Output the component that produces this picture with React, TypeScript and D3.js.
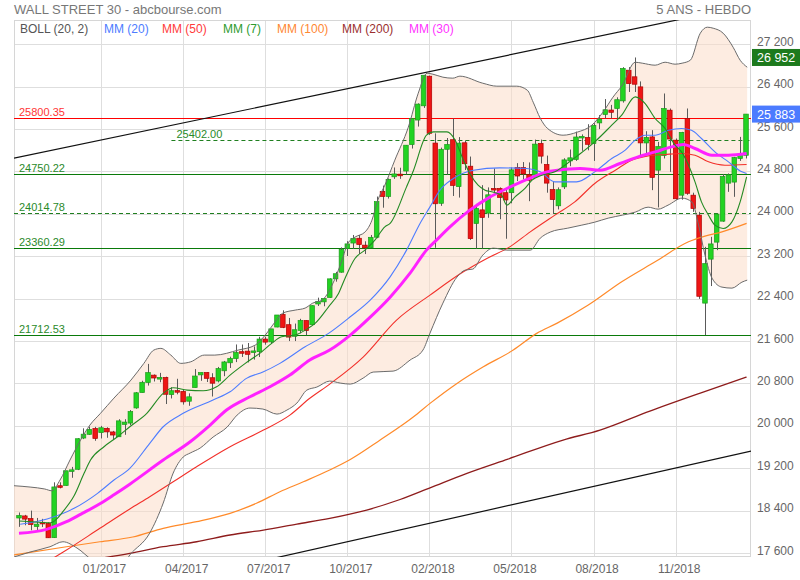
import { useEffect, useRef } from 'react';
import * as d3 from 'd3';

// weekly candles, week 0 = 26/09/2016 ... week 124 = 11/02/2019
const OPEN = [
  18261, 18300, 18250, 18100, 18180, 18160, 17890, 18870, 18875, 19150,
  19180, 19770, 19840, 19950, 19872, 19953, 19885, 19794, 20028, 20052,
  20338, 20628, 20818, 20957, 20882, 20913, 20590, 20665, 20650, 20465,
  20723, 20962, 21007, 20908, 20847, 21039, 21190, 21270, 21400, 21410,
  21392, 21400, 21638, 21584, 21865, 22103, 21909, 21690, 21800, 21988,
  21909, 22300, 22340, 22423, 22774, 22900, 23345, 23450, 23540, 23410,
  23360, 23560, 24424, 24330, 24700, 24750, 24809, 25308, 25771, 26040,
  26598, 25337, 24200, 25219, 25400, 24515, 25342, 24900, 23819, 24076,
  24014, 24480, 24480, 24400, 24400, 24876, 24876, 24740, 24731, 25329,
  24932, 24460, 24153, 24510, 25000, 25026, 25440, 25441, 25329, 25717,
  25876, 25960, 25989, 26133, 26712, 26587, 26397, 25339, 25453, 24825,
  25100, 25957, 25391, 24353, 25800, 24353, 23976, 22316, 23146, 23467,
  23863, 24580, 24600, 25046, 25106,
];
const HIGH = [
  18365, 18320, 18400, 18262, 18245, 18180, 18934, 18935, 19152, 19225,
  19768, 19953, 19987, 19981, 19999, 19973, 19905, 20125, 20125, 20298,
  20639, 20851, 21169, 20970, 21000, 20928, 20729, 20888, 20691, 20613,
  21071, 21007, 21013, 20993, 21112, 21225, 21305, 21536, 21535, 21564,
  21499, 21681, 21681, 21830, 22092, 22180, 22036, 21930, 22020, 21988,
  22273, 22419, 22417, 22784, 22906, 23368, 23485, 23602, 23602, 23483,
  23602, 24327, 24534, 24669, 24876, 24871, 25299, 25803, 26086, 26617,
  26609, 25520, 25250, 25432, 25800.35, 25449, 25380, 25082, 24189, 24542,
  24500, 24858, 24500, 24492, 24876, 24958, 24978, 24971, 25402, 25402,
  25100, 24600, 24500, 25050, 25215, 25552, 25500, 25692, 25712, 25864,
  26167, 26057, 26200, 26769, 26770, 26951.81, 26500, 25561, 25580, 25359,
  26272, 25989, 25423, 25548, 25989, 24400, 24038, 23378, 23567, 24008,
  24750, 24763, 25076, 25453, 25883.25,
];
const LOW = [
  18094, 18124, 18029, 18024, 18090, 17884, 17883, 18820, 18870, 19020,
  19165, 19750, 19830, 19718, 19762, 19775, 19732, 19794, 19831, 20013,
  20322, 20628, 20760, 20837, 20823, 20412, 20517, 20595, 20401, 20379,
  20723, 20850, 20827, 20554, 20820, 20937, 21092, 21203, 21300, 21197,
  21250, 21300, 21531, 21545, 21860, 21844, 21600, 21600, 21745, 21709,
  21909, 22262, 22257, 22416, 22721, 22890, 23205, 23340, 23243, 23242,
  23360, 23541, 24117, 24289, 24660, 24661, 24741, 25233, 25648, 26000,
  25490, 23360.29, 24151, 24738, 24338, 24308, 24828, 23509, 23344, 23344,
  23926, 24400, 23900, 23531, 24200, 24620, 24650, 24240, 24700, 24950,
  24400, 24000, 24084, 24470, 24900, 25000, 25190, 25200, 25000, 25600,
  25800, 25800, 25800, 26100, 26300, 26300, 25090, 25108, 24448, 24122,
  25046, 24793, 24268, 24268, 24360, 24038, 22396, 21712.53, 22638, 23316,
  23850, 24416, 24322, 25000, 25046,
];
const CLOSE = [
  18308, 18240, 18138, 18145, 18161, 17888, 18847, 18868, 19152, 19170,
  19757, 19843, 19934, 19763, 19964, 19886, 19827, 20094, 20071, 20269,
  20624, 20822, 21005, 20903, 20914, 20596, 20663, 20656, 20453, 20548,
  20940, 21007, 20897, 20805, 21080, 21206, 21272, 21384, 21395, 21350,
  21414, 21638, 21580, 21830, 22092, 21858, 21675, 21814, 21988, 21798,
  22268, 22350, 22405, 22774, 22871, 23329, 23434, 23539, 23422, 23358,
  23558, 24231, 24329, 24652, 24754, 24719, 25296, 25803, 26072, 26616,
  25521, 24191, 25219, 25310, 24538, 25336, 24947, 23533, 24103, 23933,
  24360, 24463, 24311, 24263, 24831, 24715, 24753, 24635, 25317, 25090,
  24581, 24271, 24456, 25019, 25058, 25451, 25463, 25313, 25669, 25790,
  25965, 25917, 26155, 26744, 26458, 26447, 25340, 25444, 24688, 25271,
  25989, 25413, 24286, 25538, 24389, 24101, 22445, 23062, 23433, 23996,
  24706, 24737, 25064, 25106, 25883.25,
];

type Pt = [number, number]; // [week, value]

// indicator lines
const BOLL_UPPER: Pt[] = [
  [-0.85, 18870], [1.9, 18845], [4.4, 18808], [5.6, 18775], [7.0, 18977], [8.7, 19355],
  [10.5, 19732], [12.1, 20015], [13.9, 20236], [16.2, 20524], [19.1, 20864], [21.3, 21179],
  [23.0, 21430], [24.2, 21462], [25.9, 21335], [27.6, 21179], [29.3, 21209], [31.6, 21335],
  [33.4, 21335], [37.4, 21430], [40.3, 21524], [42.0, 21713], [43.7, 21963], [45.0, 22128],
  [47.1, 22184], [48.8, 22222], [50.1, 22316], [51.7, 22373], [53.4, 22656], [55.1, 23127],
  [56.1, 23448], [57.3, 23561], [59.0, 23656], [60.2, 23882], [61.2, 24259], [62.4, 24542],
  [64.1, 25014], [66.4, 25636], [68.1, 26278], [69.6, 26655], [70.6, 26636], [72.3, 26580],
  [74.0, 26561], [75.2, 26599], [79.1, 26466], [81.5, 26410], [84.9, 26410], [86.7, 26334],
  [87.7, 26108], [88.9, 25806], [90.1, 25617], [92.8, 25485], [95.2, 25542], [97.7, 25674],
  [99.6, 25919], [101.3, 26202], [102.9, 26429], [105.1, 26862], [106.3, 26844], [108.5, 26806],
  [110.2, 26862], [111.9, 26825], [113.1, 26844], [114.5, 26900], [116.2, 27410], [117.4, 27523],
  [118.4, 27504], [120.1, 27410], [121.8, 27145], [123.0, 26900], [124.2, 26768],
];
const BOLL_LOWER: Pt[] = [
  [-0.85, 17525], [1.9, 17619], [5.3, 17719], [7.5, 17813], [9.9, 17694], [12.6, 17468],
  [15.5, 17393], [18.1, 17449], [18.9, 17563], [22.3, 17977], [24.6, 18543], [26.3, 19109],
  [28.0, 19411], [29.2, 19487], [30.9, 19581], [33.1, 19788], [35.5, 19977], [37.2, 20203],
  [39.4, 20336], [41.6, 20317], [44.0, 20222], [45.7, 20298], [47.4, 20430], [49.1, 20675],
  [50.8, 20732], [53.0, 20845], [54.8, 20807], [56.5, 20788], [58.7, 20901], [60.4, 21015],
  [63.8, 21033], [66.7, 21241], [68.9, 21430], [70.1, 21750], [72.3, 22316], [74.7, 22807],
  [76.1, 22939], [77.4, 22958], [79.1, 23222], [80.9, 23354], [83.2, 23316], [87.2, 23316],
  [88.9, 23542], [90.6, 23656], [93.6, 23731], [96.0, 23788], [98.2, 23844], [100.5, 23920],
  [102.9, 23976], [105.1, 24033], [107.3, 24127], [109.0, 24089], [110.7, 24165], [113.1, 24297],
  [114.8, 24222], [115.8, 23844], [117.0, 23222], [118.2, 22788], [119.9, 22618], [121.6, 22599],
  [123.3, 22712], [124.2, 22750],
];
const MM7: Pt[] = [
  [0, 18204], [2.7, 18185], [5.4, 18172], [7.7, 18411], [9.4, 18680], [11.1, 19104], [12.2, 19355],
  [14.5, 19606], [16.8, 19794], [18.9, 19983], [21.8, 20236], [24.6, 20613], [26.3, 20718],
  [28.7, 20675], [31.4, 20662], [33.7, 20737], [36.0, 20958], [38.6, 21179], [41.4, 21397],
  [43.1, 21556], [44.8, 21680], [47.1, 21713], [49.3, 21839], [50.5, 21933], [52.8, 22246],
  [54.5, 22499], [55.6, 22782], [57.3, 23159], [59.0, 23316], [60.7, 23505], [62.4, 23756],
  [63.3, 23820], [66.1, 24510], [67.3, 24825], [69.5, 25485], [70.7, 25548], [73.0, 25548],
  [74.4, 25391], [75.8, 25014], [76.9, 24763], [78.3, 24542], [79.5, 24448], [80.6, 24416],
  [82.3, 24354], [83.2, 24165], [84.6, 24322], [86.3, 24480], [87.5, 24637], [89.2, 24731],
  [91.4, 24793], [93.1, 24919], [95.4, 25108], [98.2, 25359], [101.1, 25674], [102.8, 25863],
  [105.1, 26208], [106.8, 26083], [108.5, 25800], [110.2, 25612], [111.9, 25297], [113.0, 25170],
  [114.2, 24919], [115.3, 24604], [116.4, 24227], [117.6, 23976], [118.7, 23788], [120.1, 23725],
  [121.6, 23850], [123.0, 24227], [124.1, 24699],
];
const MM20: Pt[] = [
  [0.2, 18142], [4.8, 18242], [9.4, 18443], [13.4, 18726], [16.2, 18977], [18.9, 19198],
  [22.3, 19670], [24.6, 19983], [28.0, 20236], [33.1, 20486], [36.0, 20643], [38.8, 20896],
  [41.7, 21020], [44.5, 21179], [48.8, 21492], [52.8, 21745], [56.5, 22058], [59.9, 22373],
  [63.3, 22812], [66.1, 23316], [68.4, 23820], [70.1, 24133], [71.8, 24448], [74.1, 24669],
  [77.5, 24825], [82.0, 24869], [86.6, 24857], [88.9, 24793], [91.4, 24604], [95.1, 24604],
  [98.2, 24793], [101.1, 25046], [103.4, 25202], [105.1, 25391], [106.8, 25485], [108.5, 25485],
  [110.8, 25580], [113.0, 25612], [114.7, 25580], [116.4, 25423], [118.7, 25170], [121.0, 24982],
  [123.3, 24793], [124.1, 24763],
];
const MM30: Pt[] = [
  [0, 17972], [4.7, 18047], [8.1, 18191], [10.5, 18330], [13.8, 18530], [16.2, 18700],
  [18.9, 18900], [24.6, 19355], [29.2, 19700], [32.6, 20015], [35.4, 20298], [39.4, 20549],
  [42.8, 20737], [46.2, 20958], [49.6, 21241], [53.0, 21430], [56.5, 21713], [59.9, 22052],
  [63.3, 22429], [66.7, 22882], [69.5, 23316], [71.2, 23505], [73.5, 23756], [76.9, 24071],
  [80.3, 24316], [83.7, 24504], [87.2, 24674], [90.6, 24806], [95.7, 24857], [99.1, 24825],
  [102.5, 24951], [105.6, 25076], [108.5, 25170], [111.3, 25265], [113.3, 25310], [115.3, 25234],
  [118.2, 25108], [121.0, 25108], [124.1, 25140],
];
const MM50: Pt[] = [
  [5.3, 17468], [8.1, 17657], [13.8, 18066], [18.9, 18430], [22.3, 18662], [26.3, 18945],
  [30.3, 19228], [36.0, 19606], [41.7, 19920], [46.2, 20203], [49.6, 20520], [53.0, 20788],
  [58.7, 21298], [64.4, 21996], [70.1, 22467], [75.8, 22907], [79.8, 23159], [83.7, 23378],
  [87.2, 23661], [91.4, 23976], [94.8, 24227], [98.2, 24574], [101.7, 24825], [104.5, 25014],
  [107.3, 25095], [110.2, 25121], [113.0, 25140], [115.3, 25108], [117.6, 24982], [120.4, 24919],
  [124.1, 24933],
];
const MM100: Pt[] = [
  [-0.85, 17563], [8.1, 17719], [13.8, 17813], [19.4, 17902], [24.6, 18066], [30.3, 18191],
  [36.0, 18349], [40.5, 18538], [44.5, 18757], [48.5, 18945], [53.0, 19166], [56.5, 19364],
  [61.6, 19732], [67.3, 20171], [70.1, 20424], [74.7, 20801], [79.2, 21115], [84.3, 21430],
  [88.3, 21745], [91.8, 21939], [97.1, 22279], [102.8, 22718], [108.5, 23095], [114.2, 23473],
  [117.0, 23580], [119.9, 23661], [124.1, 23820],
];
const MM200: Pt[] = [
  [12.1, 17468], [18.9, 17595], [24.6, 17719], [30.3, 17813], [36.0, 17940], [41.7, 18034],
  [47.4, 18147], [53.0, 18255], [59.3, 18411], [65.0, 18610], [70.1, 18830], [76.4, 19104],
  [83.4, 19373], [92.8, 19732], [99.1, 19920], [107.6, 20279], [116.2, 20618], [124.1, 20920],
];

const TREND_UPPER: Pt[] = [[-0.85, 25051], [124.85, 27950]];
const TREND_LOWER: Pt[] = [[-0.85, 16400], [124.85, 19524]];

const LEVELS = [25800.35, 25402.0, 24750.22, 24014.78, 23360.29, 21712.53];
const LEVEL_FROM_WEEK = [-0.85, 26, -0.85, -0.85, -0.85, -0.85];

const Y_TICKS = [17600, 18400, 19200, 20000, 20800, 21600, 22400, 23200, 24000, 24800, 25600, 26400, 27200];
const X_TICK_WEEKS = [14, 28, 42, 56, 70, 84, 98, 112];
const X_TICK_LABELS = ['01/2017', '04/2017', '07/2017', '10/2017', '02/2018', '05/2018', '08/2018', '11/2018'];

const PERIOD_HIGH = 26951.81;
const LAST_CLOSE = 25883.25;

const LEGEND = ['BOLL (20, 2)', 'MM (20)', 'MM (50)', 'MM (7)', 'MM (100)', 'MM (200)', 'MM (30)'];

const FONT = '"Liberation Sans", Arial, sans-serif';

export default function App() {
  const svgRef = useRef<SVGSVGElement>(null);

  useEffect(() => {
    if (!svgRef.current) return;
    document.body.style.margin = '0';
    const svg = d3.select(svgRef.current);
    svg.selectAll('*').remove();

    const L = 14, R = 751, T = 20, B = 557;
    const x = d3.scaleLinear().domain([-0.85, 124.85]).range([L, R]);
    const y = d3.scaleLinear().domain([17525, 27659]).range([B, T]);
    const fmt = (v: number) => d3.format(',.0f')(v).replace(/,/g, ' ');
    const crisp = (v: number) => Math.round(v) + 0.5;

    svg.append('rect').attr('width', 800).attr('height', 580).attr('fill', '#fff');
    svg.append('defs').append('clipPath').attr('id', 'plot-clip')
      .append('rect').attr('x', L).attr('y', T).attr('width', R - L).attr('height', B - T);

    // grid
    const grid = svg.append('g').attr('stroke', '#dedede').attr('stroke-width', 1);
    Y_TICKS.forEach((v) => {
      grid.append('line').attr('x1', L).attr('x2', R).attr('y1', crisp(y(v))).attr('y2', crisp(y(v)));
    });
    X_TICK_WEEKS.forEach((w) => {
      grid.append('line').attr('x1', crisp(x(w))).attr('x2', crisp(x(w))).attr('y1', T).attr('y2', B);
    });
    svg.append('rect').attr('x', L + 0.5).attr('y', T + 0.5).attr('width', R - L - 1).attr('height', B - T - 1)
      .attr('fill', 'none').attr('stroke', '#d6d6d6');

    const plot = svg.append('g').attr('clip-path', 'url(#plot-clip)');
    const line = d3.line<Pt>().x((d) => x(d[0])).y((d) => y(d[1])).curve(d3.curveMonotoneX);
    const straight = d3.line<Pt>().x((d) => x(d[0])).y((d) => y(d[1]));

    // bollinger fill
    const upperD = line(BOLL_UPPER) as string;
    const lowerRev = line(BOLL_LOWER.slice().reverse()) as string;
    plot.append('path')
      .attr('d', upperD + 'L' + lowerRev.slice(1) + 'Z')
      .attr('fill', '#fbdcc8')
      .attr('fill-opacity', 0.55);

    // horizontal levels
    const levelStyle = [
      { color: '#ff0000', dash: null, text: '#ff3535' },
      { color: '#1f7f1f', dash: '4,3', text: '#2a8a2a' },
      { color: '#0a7a0a', dash: null, text: '#2a8a2a' },
      { color: '#1f7f1f', dash: '4,3', text: '#2a8a2a' },
      { color: '#0a7a0a', dash: null, text: '#2a8a2a' },
      { color: '#0a7a0a', dash: null, text: '#2a8a2a' },
    ];
    LEVELS.forEach((v, i) => {
      const yy = crisp(y(v));
      const st = levelStyle[i];
      const x0 = Math.max(L, x(LEVEL_FROM_WEEK[i]));
      plot.append('line').attr('x1', x0).attr('x2', R).attr('y1', yy).attr('y2', yy)
        .attr('stroke', st.color).attr('stroke-width', 1.2)
        .attr('stroke-dasharray', st.dash);
      svg.append('text').attr('x', x0 + (i === 1 ? 5 : 5)).attr('y', yy - 2.5)
        .attr('font-family', FONT).attr('font-size', 11).attr('fill', st.text)
        .text(v.toFixed(2));
    });

    // trend lines
    [TREND_UPPER, TREND_LOWER].forEach((tl) => {
      plot.append('path').attr('d', straight(tl)).attr('fill', 'none')
        .attr('stroke', '#111').attr('stroke-width', 1.2);
    });

    // candles
    const candles = plot.append('g');
    CLOSE.forEach((c, i) => {
      const o = OPEN[i];
      const up = c >= o;
      const cx = x(i);
      candles.append('line').attr('x1', crisp(cx)).attr('x2', crisp(cx))
        .attr('y1', y(HIGH[i])).attr('y2', y(LOW[i]))
        .attr('stroke', '#5a5a5a').attr('stroke-width', 1);
      const y0 = Math.min(y(o), y(c));
      const h = Math.max(1.6, Math.abs(y(o) - y(c)));
      candles.append('rect').attr('x', cx - 2.3).attr('width', 4.6)
        .attr('y', y0).attr('height', h)
        .attr('fill', up ? '#22d322' : '#ee1515')
        .attr('stroke', up ? '#1c9a1c' : '#b00000').attr('stroke-width', 0.7);
    });

    // indicator lines
    const series: [Pt[], string, number][] = [
      [MM200, '#8e1c1c', 1.3],
      [MM100, '#ff8a2a', 1.2],
      [MM50, '#f2302a', 1.1],
      [BOLL_UPPER, '#6b6b6b', 1],
      [BOLL_LOWER, '#6b6b6b', 1],
      [MM20, '#4d7cff', 1.1],
      [MM30, '#ff22ff', 3],
      [MM7, '#238a23', 1.1],
    ];
    series.forEach(([data, color, w]) => {
      plot.append('path').attr('d', line(data)).attr('fill', 'none')
        .attr('stroke', color).attr('stroke-width', w).attr('stroke-linejoin', 'round');
    });

    // right axis labels
    const axis = svg.append('g').attr('font-family', FONT).attr('font-size', 12).attr('fill', '#666');
    Y_TICKS.forEach((v) => {
      axis.append('text').attr('x', 757).attr('y', y(v) + 1.5).text(fmt(v));
    });
    X_TICK_WEEKS.forEach((w, i) => {
      axis.append('text').attr('x', x(w) + 3.5).attr('y', 572.5)
        .attr('text-anchor', 'middle').text(X_TICK_LABELS[i]);
    });

    // value tags
    const tag = (v: number, bg: string) => {
      const yy = y(v);
      svg.append('rect').attr('x', 752).attr('y', yy - 8.5).attr('width', 48).attr('height', 17).attr('fill', bg);
      svg.append('text').attr('x', 757).attr('y', yy + 4.5)
        .attr('font-family', FONT).attr('font-size', 12.5).attr('fill', '#fff').text(fmt(v));
    };
    tag(PERIOD_HIGH, '#1d7a1d');
    tag(LAST_CLOSE, '#4b7bff');

    // titles
    svg.append('text').attr('x', 14).attr('y', 13.5).attr('font-family', FONT).attr('font-size', 13)
      .attr('fill', '#777').text('WALL STREET 30 - abcbourse.com');
    svg.append('text').attr('x', 751).attr('y', 13.5).attr('text-anchor', 'end').attr('font-family', FONT)
      .attr('font-size', 13).attr('fill', '#777').text('5 ANS - HEBDO');

    // legend
    const legendColors = ['#555', '#4d7cff', '#ff3b3b', '#2e9b2e', '#ff8833', '#9b2f2f', '#ff33ff'];
    const legendX = [20, 104, 162, 223, 277, 342, 409];
    LEGEND.forEach((t, i) => {
      svg.append('text').attr('x', legendX[i]).attr('y', 32.5).attr('font-family', FONT)
        .attr('font-size', 12).attr('fill', legendColors[i]).text(t);
    });
  }, []);

  return <svg ref={svgRef} width={800} height={580} style={{ display: 'block' }} />;
}
